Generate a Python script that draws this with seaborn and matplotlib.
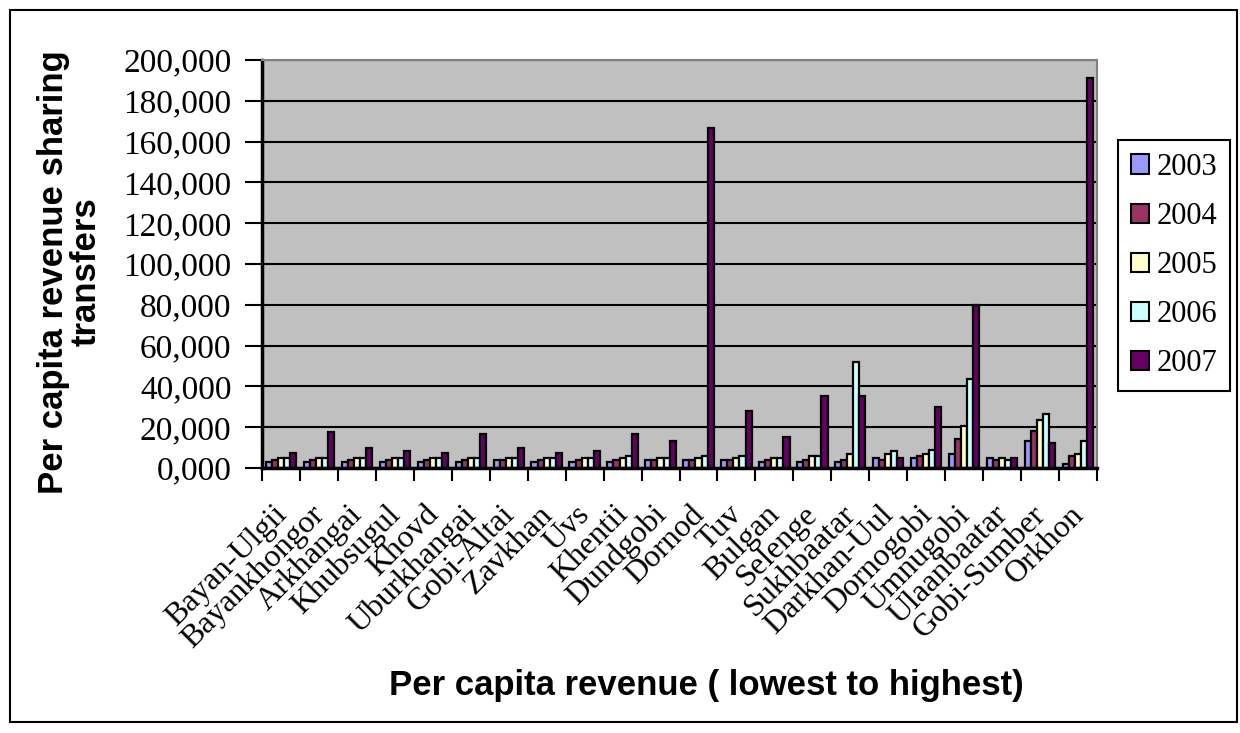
import matplotlib
matplotlib.use("Agg")
import matplotlib.pyplot as plt
import matplotlib.transforms as mtransforms
import seaborn as sns
import pandas as pd
from matplotlib.patches import Rectangle, Patch

regions = ["Bayan-Ulgii", "Bayankhongor", "Arkhangai", "Khubsugul", "Khovd",
           "Uburkhangai", "Gobi-Altai", "Zavkhan", "Uvs", "Khentii", "Dundgobi",
           "Dornod", "Tuv", "Bulgan", "Selenge", "Sukhbaatar", "Darkhan-Uul",
           "Dornogobi", "Umnugobi", "Ulaanbaatar", "Gobi-Sumber", "Orkhon"]
years = ["2003", "2004", "2005", "2006", "2007"]
v2003 = [3000, 3000, 3000, 3000, 3000, 3000, 4000, 3000, 3000, 3000, 4000,
         4000, 4000, 3000, 3000, 3000, 4900, 4900, 7000, 4900, 13300, 2000]
v2004 = [4000, 4000, 4000, 4000, 4000, 4000, 4000, 4000, 4000, 4000, 4000,
         4000, 4000, 4000, 3900, 4000, 3900, 6000, 14200, 3900, 18300, 5900]
v2005 = [5000, 5000, 5000, 5000, 5000, 5000, 5000, 5000, 5000, 5000, 5000,
         5000, 5000, 5000, 5900, 7100, 7100, 6800, 20500, 4900, 23600, 7100]
v2006 = [5000, 5000, 5000, 5000, 5000, 5000, 5000, 5000, 5000, 6000, 5000,
         6000, 6000, 5000, 5900, 52000, 8100, 9000, 43500, 3800, 26600, 13300]
v2007 = [7200, 17700, 10000, 8200, 7200, 16700, 10000, 7200, 8200, 16700, 13400,
         166600, 28000, 15400, 35400, 35400, 4900, 30000, 80000, 4900, 12300, 191200]
ytick_values = [0, 20000, 40000, 60000, 80000, 100000, 120000, 140000, 160000, 180000, 200000]
ytick_labels = ["0,000", "20,000", "40,000", "60,000", "80,000", "100,000",
                "120,000", "140,000", "160,000", "180,000", "200,000"]
colors = ["#9999FF", "#993366", "#FFFFCC", "#CCFFFF", "#660066"]

series = [v2003, v2004, v2005, v2006, v2007]
rows = []
for y, vals in zip(years, series):
    for r, v in zip(regions, vals):
        rows.append({"region": r, "year": y, "value": v})
df = pd.DataFrame(rows)

serif = ["Liberation Serif", "DejaVu Serif"]
sans = ["Liberation Sans", "DejaVu Sans"]

fig = plt.figure(figsize=(12.4, 7.33), dpi=100)
ax = fig.add_axes([262/1240, 1-468/733, (1097-262)/1240, (468-60)/733])
ax.set_facecolor("#C0C0C0")

sns.barplot(data=df, x="region", y="value", hue="year", hue_order=years,
            order=regions, palette=colors, saturation=1, width=0.8,
            edgecolor="black", linewidth=1.6, ax=ax, legend=False, errorbar=None)

ax.set_ylim(0, 200000)
ax.set_xlim(-0.5, len(regions)-0.5)
ax.set_yticks(ytick_values)
ax.set_yticklabels(ytick_labels, fontsize=24, family=serif)
ax.yaxis.grid(True, color="black", linewidth=1.5)
ax.set_axisbelow(True)
ax.tick_params(axis="y", length=12, width=1.5, pad=10)

ax.set_xticks(range(len(regions)))
ax.set_xticklabels(regions, rotation=45, ha="right", rotation_mode="anchor",
                   fontsize=23, family=serif)
ax.tick_params(axis="x", which="major", length=0, pad=23)
ax.set_xticks([i - 0.5 for i in range(len(regions)+1)], minor=True)
ax.tick_params(axis="x", which="minor", length=9, width=1.5, direction="out")
shift = mtransforms.ScaledTranslation(-9/100, 0, fig.dpi_scale_trans)
for lab in ax.get_xticklabels():
    lab.set_transform(lab.get_transform() + shift)

ax.set_xlabel("")
ax.set_ylabel("")
for s in ["top", "right"]:
    ax.spines[s].set_color("#808080")
    ax.spines[s].set_linewidth(1.5)
ax.spines["left"].set_color("black")
ax.spines["left"].set_linewidth(2.5)
ax.spines["bottom"].set_color("black")
ax.spines["bottom"].set_linewidth(2.5)

fig.text(706/1240, 1-685/733, "Per capita revenue ( lowest to highest)",
         ha="center", va="center", fontsize=25, fontweight="bold", family=sans)
fig.text(70/1240, 1-272/733, "Per capita revenue sharing\ntransfers",
         rotation=90, ha="center", va="center", multialignment="center",
         fontsize=25, fontweight="bold", family=sans, linespacing=1.0)

handles = [Patch(facecolor=c, edgecolor="black", linewidth=1.5) for c in colors]
leg = fig.legend(handles, years, loc="upper left",
                 bbox_to_anchor=(1118/1240, 1-140/733), frameon=True,
                 fancybox=False, edgecolor="black", framealpha=1,
                 prop={"family": serif, "size": 22},
                 handlelength=0.6, handleheight=0.6, handletextpad=0.25,
                 labelspacing=0.66, borderpad=0.42, borderaxespad=0)
leg.get_frame().set_linewidth(1.5)

fig.patches.append(Rectangle((10/1240, 1-722/733), (1237-10)/1240, (722-10)/733,
                             transform=fig.transFigure, fill=False,
                             edgecolor="black", linewidth=1.5))

fig.savefig("out.png", dpi=100)
